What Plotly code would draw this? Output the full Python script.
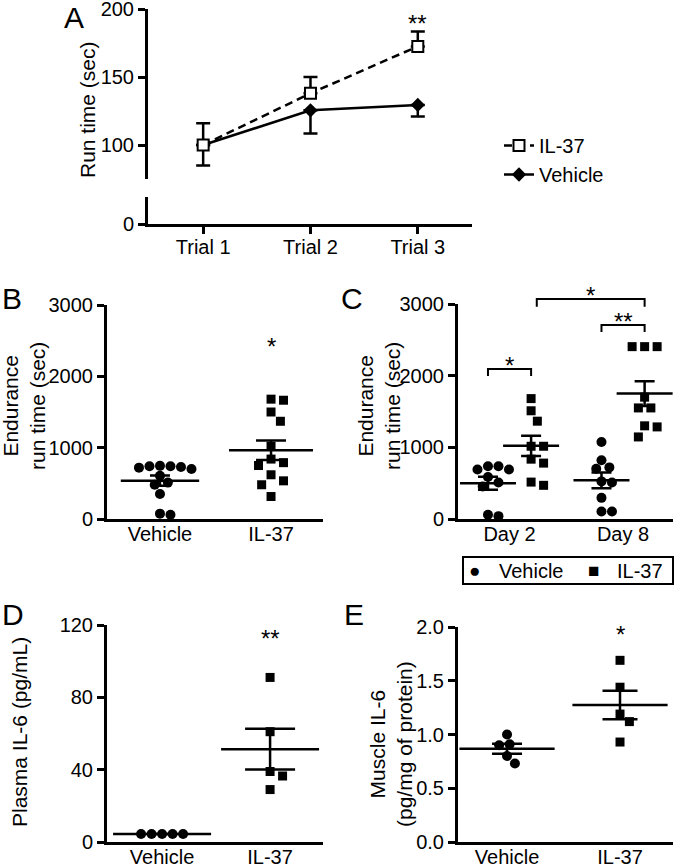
import numpy as np
import plotly.graph_objects as go

# --- Data ---
trials = ["Trial 1", "Trial 2", "Trial 3"]
a_il37_mean = [100, 138, 172.5]
a_il37_sem = [16, 12, 11]
a_veh_mean = [100, 125.5, 129.5]
a_veh_sem = [15, 17, 8.5]

groups = ["Vehicle", "IL-37"]
b_vehicle = [745, 740, 740, 730, 720, 700, 605, 510, 480, 350, 75, 60]
b_il37 = [1680, 1665, 1500, 1370, 1020, 840, 790, 750, 620, 535, 480, 315]

days = ["Day 2", "Day 8"]
c_veh_day2 = [735, 735, 690, 690, 585, 510, 455, 60, 40]
c_il37_day2 = [1680, 1510, 1365, 1015, 1015, 835, 780, 515, 470]
c_veh_day8 = [1075, 820, 720, 700, 525, 510, 295, 105, 105]
c_il37_day8 = [2405, 2405, 2405, 1700, 1550, 1550, 1300, 1285, 1145]

d_vehicle = [4.4, 4.4, 4.4, 4.4, 4.4]
d_il37 = [91, 61, 39, 36.5, 29]

e_vehicle = [1.0, 0.91, 0.90, 0.80, 0.73]
e_il37 = [1.69, 1.44, 1.19, 1.12, 0.93]

# --- Page geometry ---
W, H = 677, 867
FONT = "Liberation Sans, Arial, Helvetica, sans-serif"


def px_x(a, b):
    return [a / W, b / W]


def px_y(top, bottom):
    return [1 - bottom / H, 1 - top / H]


def mean_sem(vals):
    a = np.asarray(vals, dtype=float)
    return a.mean(), a.std(ddof=1) / np.sqrt(len(a))


def swarm(vals, xppu, yppu, d=10.0):
    """simple beeswarm: offsets (in x units) so markers don't overlap"""
    order = sorted(range(len(vals)), key=lambda i: -vals[i])
    placed = []
    offs = [0.0] * len(vals)
    steps = [0.0]
    for k in range(1, 60):
        steps += [k * d / 4, -k * d / 4]
    for i in order:
        py = vals[i] * yppu
        for s in steps:
            if all((s - qx) ** 2 + (py - qy) ** 2 >= (d * 0.95) ** 2 for qx, qy in placed):
                placed.append((s, py))
                offs[i] = s / xppu
                break
    return offs


base = dict(showline=True, linewidth=3, linecolor="black", showgrid=False, zeroline=False,
            tickfont=dict(family=FONT, size=20, color="black"), ticks="outside",
            ticklen=7, tickwidth=2.5, tickcolor="black", fixedrange=True, automargin=False,
            ticklabeloverflow="allow")
noticks = dict(ticks="outside", ticklen=4, tickcolor="rgba(0,0,0,0)", ticklabelstandoff=-9)

panels = {
    # name: (xaxis, yaxis, x px domain, y px domain, xrange, yrange)
    "B": ("x2", "y3", (107, 323), (305, 519), [-0.477, 1.468], [0, 3000]),
    "C": ("x3", "y4", (458, 673), (304, 519), [-0.454, 1.44], [0, 3000]),
    "D": ("x4", "y5", (107, 323), (625, 842), [-0.51, 1.49], [0, 120]),
    "E": ("x5", "y6", (458, 673), (627, 842), [-0.434, 1.469], [0, 2]),
}

fig = go.Figure()
lay = {}

# ---------- Panel A ----------
lay["xaxis"] = dict(base, domain=px_x(148, 472), range=[0.486, 3.505], anchor="y2",
                    tickvals=[1, 2, 3], ticktext=trials, ticklabelstandoff=-4)
lay["yaxis"] = dict(base, domain=px_y(9, 179), range=[75, 200], anchor="x", tickvals=[100, 150, 200])
lay["yaxis2"] = dict(base, domain=px_y(197, 224), range=[0, 19.8], anchor="x", tickvals=[0])

# keeps the lower (broken) y segment alive
fig.add_trace(go.Scatter(x=[1], y=[None], xaxis="x", yaxis="y2", mode="markers",
                         showlegend=False, hoverinfo="skip"))
fig.add_trace(go.Scatter(
    x=[1, 2, 3], y=a_veh_mean, name="Vehicle", mode="lines+markers", xaxis="x", yaxis="y",
    line=dict(color="black", width=2.5),
    marker=dict(symbol="diamond", size=11, color="black"),
    error_y=dict(type="data", symmetric=False, array=[0, 0, 0], arrayminus=a_veh_sem,
                 width=7, thickness=2.5, color="black"),
    legendrank=2, cliponaxis=False))
fig.add_trace(go.Scatter(
    x=[1, 2, 3], y=a_il37_mean, name="IL-37", mode="lines+markers", xaxis="x", yaxis="y",
    line=dict(color="black", width=2.5, dash="8px,5px"),
    marker=dict(symbol="square", size=11, color="white", line=dict(color="black", width=2)),
    error_y=dict(type="data", symmetric=False, array=a_il37_sem, arrayminus=[0, 0, 0],
                 width=7, thickness=2.5, color="black"),
    legendrank=1, cliponaxis=False))

# ---------- dot panels ----------
for name, (xa, ya, xdom, ydom, xr, yr) in panels.items():
    xkey = "xaxis" + xa[1:]
    ykey = "yaxis" + ya[1:]
    lay[xkey] = dict(base, **noticks, domain=px_x(*xdom), range=xr, anchor=ya)
    lay[ykey] = dict(base, domain=px_y(*ydom), range=yr, anchor=xa)

xppu = {k: (v[2][1] - v[2][0]) / (v[4][1] - v[4][0]) for k, v in panels.items()}
yppu = {k: (v[3][1] - v[3][0]) / (v[5][1] - v[5][0]) for k, v in panels.items()}

lay["xaxis2"].update(tickvals=[0, 1], ticktext=groups)
lay["yaxis3"].update(tickvals=[0, 1000, 2000, 3000])
lay["xaxis3"].update(tickvals=[0, 1], ticktext=days)
lay["yaxis4"].update(tickvals=[0, 1000, 2000, 3000])
lay["xaxis4"].update(tickvals=[0, 1], ticktext=groups)
lay["yaxis5"].update(tickvals=[0, 40, 80, 120])
lay["xaxis5"].update(tickvals=[0, 1], ticktext=groups)
lay["yaxis6"].update(tickvals=[0, 0.5, 1.0, 1.5, 2.0], tickformat=".1f")

# taller invisible axis over panel C so the brackets above 3000 are not clipped
c_top = 262
lay["yaxis7"] = dict(domain=px_y(c_top, 519), range=[0, 3000 * (519 - c_top) / (519 - 304)],
                     anchor="x3", visible=False, fixedrange=True)


def dot_group(panel, vals, center, symbol, line_w, cap_w):
    xa, ya = panels[panel][0], panels[panel][1]
    size, gap = (10, 10.5) if symbol == "circle" else (9, 12.5)
    offs = swarm(vals, xppu[panel], yppu[panel], d=gap)
    fig.add_trace(go.Scatter(
        x=[center + o for o in offs], y=vals, mode="markers", xaxis=xa, yaxis=ya,
        marker=dict(symbol=symbol, size=size, color="black"), cliponaxis=False, showlegend=False))
    m, s = mean_sem(vals)
    fig.add_trace(go.Scatter(
        x=[center], y=[m], mode="markers", xaxis=xa, yaxis=ya, showlegend=False,
        marker=dict(symbol="line-ew", size=line_w, line=dict(color="black", width=2.5)),
        error_y=dict(type="data", array=[s], width=cap_w / 2, thickness=2.5, color="black"),
        cliponaxis=False))


# B
dot_group("B", b_vehicle, 0, "circle", 56, 20)
dot_group("B", b_il37, 1, "square", 60, 30)

# C
off = 0.19
dot_group("C", c_veh_day2, 0 - off, "circle", 40, 20)
dot_group("C", c_il37_day2, 0 + off, "square", 40, 20)
dot_group("C", c_veh_day8, 1 - off, "circle", 40, 20)
dot_group("C", c_il37_day8, 1 + off, "square", 40, 20)

# D
dot_group("D", d_vehicle, 0, "circle", 70, 30)
dot_group("D", d_il37, 1, "square", 70, 50)

# E
dot_group("E", e_vehicle, 0, "circle", 68, 30)
dot_group("E", e_il37, 1, "square", 68, 35)

# significance brackets in C: (x0, x1, bar height, tick end, label)
brackets = [(-off, off, 2093, 1995, "*"), (1 - off, 1 + off, 2707, 2609, "**"),
            (off + 0.05, 1 + off, 3070, 2960, "*")]
ann = []


def star(text, x, y, xref, yref):
    ann.append(dict(text=text, x=x, y=y, xref=xref, yref=yref, showarrow=False, yshift=-6,
                    font=dict(family=FONT, size=24, color="black")))


for x0, x1, yb, yt, lab in brackets:
    fig.add_trace(go.Scatter(x=[x0, x0, x1, x1], y=[yt, yb, yb, yt], mode="lines", xaxis="x3", yaxis="y7",
                             line=dict(color="black", width=2), showlegend=False, hoverinfo="skip"))
    star(lab, (x0 + x1) / 2, yb + 135, "x3", "y7")

star("**", 3, 194, "x", "y")
star("*", 1, 2500, "x2", "y3")
star("**", 1, 115.6, "x4", "y5")
star("*", 1, 1.99, "x5", "y6")


def ptext(text, x, y, size=30, angle=0, xanchor="center"):
    ann.append(dict(text=text, x=x / W, y=1 - y / H, xref="paper", yref="paper", showarrow=False,
                    textangle=angle, xanchor=xanchor, yanchor="middle",
                    font=dict(family=FONT, size=size, color="black")))


for letter, lx, ly in [("A", 74, 18), ("B", 12, 298), ("C", 352, 298), ("D", 13, 614), ("E", 354, 614)]:
    ptext(letter, lx, ly)

ptext("Run time (sec)", 87, 110, 21, -90)
ptext("Endurance<br>run time (sec)", 24, 406, 21, -90)
ptext("Endurance<br>run time (sec)", 379, 406, 21, -90)
ptext("Plasma IL-6 (pg/mL)", 19, 732, 21, -90)
ptext("Muscle IL-6<br>(pg/mg of protein)", 391, 744, 21, -90)

# legend box of panel C
ptext("\u25cf", 474, 570, 19)
ptext("Vehicle", 497, 571, 20, xanchor="left")
ptext("\u25a0", 593, 570, 19)
ptext("IL-37", 615, 571, 20, xanchor="left")
shapes = [dict(type="rect", xref="paper", yref="paper", x0=463 / W, x1=673 / W,
               y0=1 - 584 / H, y1=1 - 557 / H, line=dict(color="black", width=2))]

fig.update_layout(
    width=W, height=H, margin=dict(l=0, r=0, t=0, b=0, autoexpand=False),
    paper_bgcolor="white", plot_bgcolor="rgba(0,0,0,0)",
    font=dict(family=FONT, size=20, color="black"),
    annotations=ann, shapes=shapes,
    legend=dict(x=499 / W, y=1 - 126 / H, xanchor="left", yanchor="top", bgcolor="rgba(0,0,0,0)",
                font=dict(family=FONT, size=20, color="black"), itemwidth=30, tracegroupgap=0),
    **lay,
)

# page body margin would push the fixed-size figure off the window
fig.write_html("out.html", config={"displayModeBar": False},
               post_script="document.body.style.margin='0';")
